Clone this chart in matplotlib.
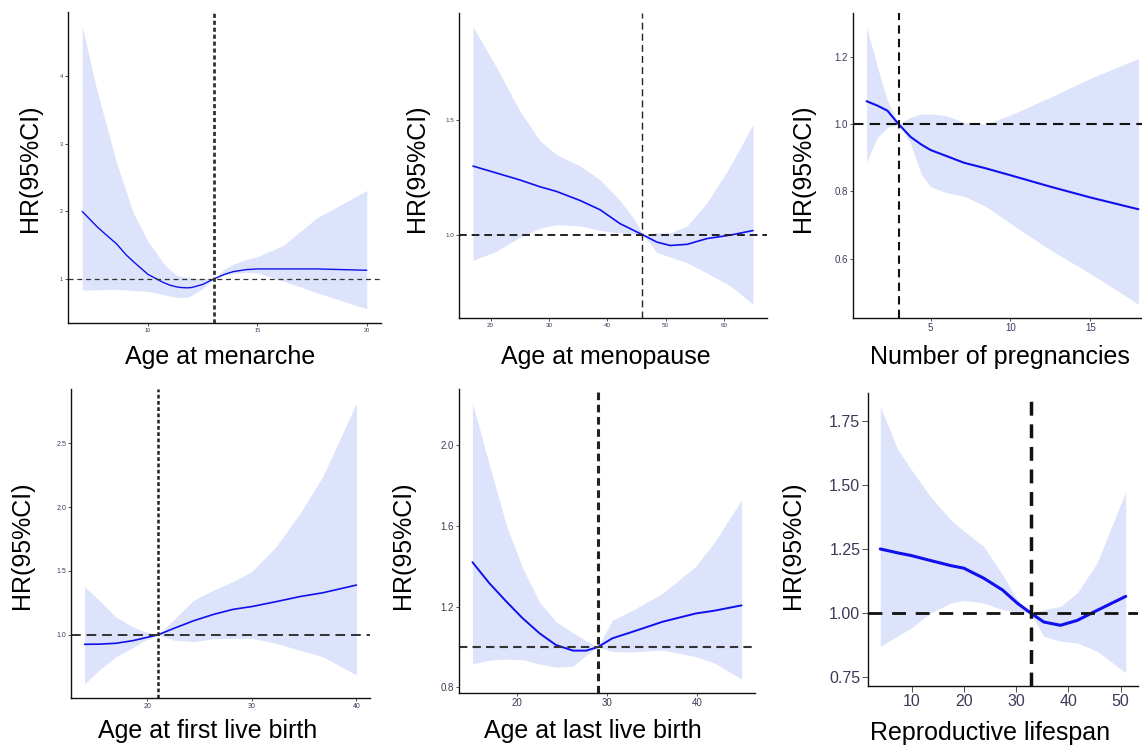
import numpy as np
import matplotlib
matplotlib.use("Agg")
import matplotlib.pyplot as plt

plt.rcParams['font.family'] = ['Liberation Sans', 'DejaVu Sans']

W, H = 1142, 749
FILL = '#dce3fa'
LINE = '#1010ee'

# --- Age at menarche ---
men_x = [7, 7.66, 8, 8.57, 9, 9.33, 10, 10.7, 11, 11.3, 11.5, 11.8, 12, 12.5, 13, 13.5, 13.9, 14.5, 15, 16.2, 17.7, 20]
men_fit = [2.0, 1.78, 1.68, 1.52, 1.36, 1.26, 1.07, 0.95, 0.91, 0.885, 0.875, 0.87, 0.875, 0.92, 1.0, 1.07, 1.11, 1.14, 1.15, 1.15, 1.15, 1.13]
men_hi = [4.74, 3.80, 3.40, 2.72, 2.30, 1.98, 1.56, 1.24, 1.14, 1.06, 1.04, 1.02, 1.01, 1.005, 1.0, 1.15, 1.22, 1.29, 1.33, 1.50, 1.90, 2.31]
men_lo = [0.84, 0.84, 0.845, 0.85, 0.84, 0.83, 0.82, 0.77, 0.75, 0.73, 0.725, 0.73, 0.76, 0.86, 1.0, 1.06, 1.08, 1.1, 1.09, 0.97, 0.80, 0.56]

# --- Age at menopause ---
mp_x = [17, 21, 25, 28.5, 31.3, 35.4, 38.8, 42.2, 44.6, 46.2, 48.5, 50.8, 53.7, 57.1, 61.1, 65]
mp_fit = [1.30, 1.27, 1.24, 1.21, 1.19, 1.15, 1.11, 1.05, 1.02, 1.0, 0.97, 0.955, 0.96, 0.985, 1.0, 1.02]
mp_hi = [1.905, 1.73, 1.54, 1.41, 1.35, 1.30, 1.24, 1.15, 1.07, 1.0, 1.01, 1.01, 1.04, 1.14, 1.30, 1.48]
mp_lo = [0.89, 0.93, 0.99, 1.03, 1.045, 1.04, 1.02, 1.01, 1.005, 1.0, 0.925, 0.905, 0.88, 0.835, 0.78, 0.70]

# --- Number of pregnancies ---
pr_x = [1, 1.67, 2.3, 3, 3.75, 4.4, 5, 6, 7.1, 8.5, 10, 12.5, 15, 18]
pr_fit = [1.068, 1.055, 1.04, 1.0, 0.962, 0.94, 0.923, 0.905, 0.885, 0.868, 0.848, 0.814, 0.782, 0.747]
pr_hi = [1.289, 1.17, 1.07, 1.0, 1.02, 1.03, 1.03, 1.025, 1.005, 1.0, 1.027, 1.08, 1.136, 1.195]
pr_lo = [0.888, 0.96, 0.99, 1.0, 0.943, 0.853, 0.814, 0.796, 0.786, 0.754, 0.705, 0.626, 0.556, 0.465]

# --- Age at first live birth ---
fb_x = [14, 15.4, 17, 18.6, 19.6, 21, 22.5, 24.4, 26.3, 28.2, 30, 32.3, 34.6, 36.8, 40]
fb_fit = [0.927, 0.928, 0.935, 0.955, 0.974, 1.0, 1.05, 1.11, 1.16, 1.20, 1.222, 1.26, 1.30, 1.33, 1.39]
fb_hi = [1.378, 1.27, 1.14, 1.065, 1.03, 1.0, 1.117, 1.27, 1.35, 1.417, 1.496, 1.69, 1.95, 2.24, 2.813]
fb_lo = [0.617, 0.726, 0.83, 0.90, 0.95, 1.0, 0.96, 0.948, 0.97, 0.974, 0.974, 0.935, 0.88, 0.83, 0.687]

# --- Age at last live birth ---
lb_x = [15, 16.9, 18.8, 20.6, 22.5, 24.3, 26.2, 27.7, 29, 30.6, 32.9, 36.2, 39.9, 42, 45]
lb_fit = [1.42, 1.315, 1.224, 1.142, 1.067, 1.01, 0.982, 0.982, 1.0, 1.043, 1.076, 1.125, 1.166, 1.18, 1.206]
lb_hi = [2.21, 1.90, 1.60, 1.39, 1.22, 1.125, 1.07, 1.03, 1.0, 1.133, 1.183, 1.266, 1.40, 1.52, 1.728]
lb_lo = [0.916, 0.935, 0.94, 0.937, 0.915, 0.9, 0.905, 0.96, 1.0, 0.977, 0.975, 0.985, 0.952, 0.92, 0.841]

# --- Reproductive lifespan ---
rl_x = [4, 7.3, 10, 13.6, 17.5, 20, 23.8, 27.4, 30.2, 32.8, 35.3, 38.5, 41.7, 45.5, 51]
rl_fit = [1.25, 1.235, 1.224, 1.205, 1.185, 1.175, 1.136, 1.09, 1.039, 1.0, 0.965, 0.952, 0.971, 1.01, 1.065]
rl_hi = [1.807, 1.64, 1.558, 1.454, 1.363, 1.32, 1.26, 1.15, 1.052, 1.0, 1.013, 1.026, 1.078, 1.195, 1.473]
rl_lo = [0.87, 0.91, 0.942, 1.0, 1.039, 1.049, 1.039, 1.013, 1.005, 1.0, 0.909, 0.89, 0.883, 0.851, 0.767]

panels = [
    dict(x=men_x, fit=men_fit, lo=men_lo, hi=men_hi, ref=13, box=(68, 12, 381, 323),
         xlim=(6.35, 20.65), ylim=(0.35, 4.95), xt=[10, 15, 20], yt=[1, 2, 3, 4], fmt='{:g}', fs=4.0,
         xlabel='Age at menarche', xl=(220, 357), yl=(30, 168), lw=1.0,
         v=dict(lw=2.0, dashes=(1.5, 1.0), color='#333333'), h=dict(lw=0.9, dashes=(4, 3), color='#333333')),
    dict(x=mp_x, fit=mp_fit, lo=mp_lo, hi=mp_hi, ref=46, box=(459, 13, 767, 318),
         xlim=(14.6, 67.4), ylim=(0.64, 1.965), xt=[20, 30, 40, 50, 60], yt=[1.0, 1.5], fmt='{:.1f}', fs=4.5,
         xlabel='Age at menopause', xl=(606, 357), yl=(417, 168), lw=1.2,
         v=dict(lw=1.0, dashes=(5, 3), color='#222222'), h=dict(lw=1.4, dashes=(4, 2.5), color='#222222')),
    dict(x=pr_x, fit=pr_fit, lo=pr_lo, hi=pr_hi, ref=3, box=(853, 13, 1152, 318),
         xlim=(0.15, 18.85), ylim=(0.424, 1.33), xt=[5, 10, 15], yt=[0.6, 0.8, 1.0, 1.2], fmt='{:.1f}', fs=7.0,
         xlabel='Number of pregnancies', xl=(1000, 357), yl=(803, 168), lw=1.5,
         v=dict(lw=1.5, dashes=(4, 2.5), color='#111111'), h=dict(lw=1.5, dashes=(5, 3), color='#111111')),
    dict(x=fb_x, fit=fb_fit, lo=fb_lo, hi=fb_hi, ref=21, box=(71, 389, 370, 698),
         xlim=(12.7, 41.3), ylim=(0.507, 2.923), xt=[20, 30, 40], yt=[1.0, 1.5, 2.0, 2.5], fmt='{:.1f}', fs=5.0,
         xlabel='Age at first live birth', xl=(208, 731), yl=(22, 545), lw=1.2,
         v=dict(lw=1.8, dashes=(1.5, 1.0), color='#222222'), h=dict(lw=1.4, dashes=(5, 3), color='#333333')),
    dict(x=lb_x, fit=lb_fit, lo=lb_lo, hi=lb_hi, ref=29, box=(459, 389, 755, 693),
         xlim=(13.5, 46.5), ylim=(0.772, 2.278), xt=[20, 30, 40], yt=[0.8, 1.2, 1.6, 2.0], fmt='{:.1f}', fs=7.0,
         xlabel='Age at last live birth', xl=(593, 731), yl=(403, 545), lw=1.4,
         v=dict(lw=2.2, dashes=(2.5, 1.5), color='#222222'), h=dict(lw=1.5, dashes=(4, 2.5), color='#333333')),
    dict(x=rl_x, fit=rl_fit, lo=rl_lo, hi=rl_hi, ref=32.8, box=(868, 393, 1138, 686),
         xlim=(1.65, 53.35), ylim=(0.715, 1.859), xt=[10, 20, 30, 40, 50], yt=[0.75, 1.0, 1.25, 1.5, 1.75],
         fmt='{:.2f}', fs=11.5,
         xlabel='Reproductive lifespan', xl=(990, 733), yl=(793, 545), lw=2.2,
         v=dict(lw=2.5, dashes=(4, 2.5), color='#111111'), h=dict(lw=2.0, dashes=(5, 3.5), color='#111111')),
]

fig = plt.figure(figsize=(W / 100, H / 100), dpi=100)

for i, p in enumerate(panels):
    l, t, r, b = p['box']
    ax = fig.add_axes([l / W, 1 - b / H, (r - l) / W, (b - t) / H])
    ax.fill_between(p['x'], p['lo'], p['hi'], color=FILL, lw=0)
    ax.plot(p['x'], p['fit'], color=LINE, lw=p['lw'], solid_capstyle='round')
    ax.axvline(p['ref'], **p['v'])
    ax.axhline(1.0, **p['h'])
    ax.set_xlim(*p['xlim'])
    ax.set_ylim(*p['ylim'])
    ax.set_xticks(p['xt'])
    ax.set_yticks(p['yt'])
    ax.set_xticklabels([str(v) for v in p['xt']])
    ax.set_yticklabels([p['fmt'].format(v) for v in p['yt']])
    tl = 4 if i == 5 else 2
    ax.tick_params(labelsize=p['fs'], length=tl, width=0.6, color='#333333',
                   labelcolor='#3a3a5a', pad=1.5)
    for s in ['top', 'right']:
        ax.spines[s].set_visible(False)
    for s in ['left', 'bottom']:
        ax.spines[s].set_linewidth(1.0)
        ax.spines[s].set_color('#111111')
    ax.patch.set_alpha(0)
    fig.text(p['xl'][0] / W, 1 - p['xl'][1] / H, p['xlabel'], fontsize=18,
             ha='center', va='center')
    fig.text(p['yl'][0] / W, 1 - p['yl'][1] / H, 'HR(95%CI)', fontsize=18,
             ha='center', va='center', rotation=90)

fig.savefig('out.png', dpi=100)
